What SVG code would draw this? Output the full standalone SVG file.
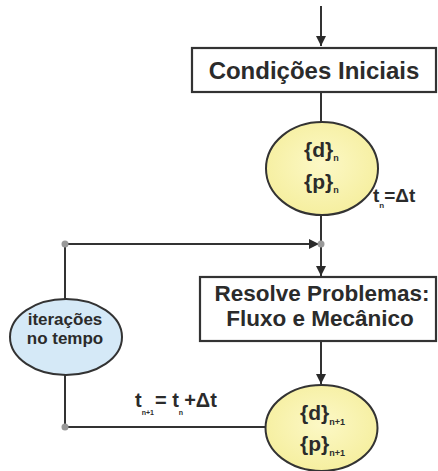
<svg xmlns="http://www.w3.org/2000/svg" width="438" height="471" viewBox="0 0 438 471">
<defs>
<marker id="ah" markerWidth="12" markerHeight="12" refX="10" refY="5" orient="auto" markerUnits="userSpaceOnUse"><path d="M0,0 L10,5 L0,10 z" fill="#2a2a2a"/></marker>
<radialGradient id="yel" cx="50%" cy="45%" r="60%"><stop offset="0" stop-color="#fcf8c6"/><stop offset="1" stop-color="#f5ee9c"/></radialGradient>
</defs>
<style>
.ln{stroke:#333;stroke-width:2;fill:none}
.box{fill:#fff;stroke:#333;stroke-width:2.2}
.yel{fill:url(#yel);stroke:#333;stroke-width:2}
.blu{fill:#d5e9f7;stroke:#333;stroke-width:2}
.t{font-family:"Liberation Sans",Arial,sans-serif;font-weight:bold;fill:#2b2b2b}
.dot{fill:#999}
</style>
<g id="connectors">
<line class="ln" x1="321" y1="6" x2="321" y2="46" marker-end="url(#ah)"/>
<line class="ln" x1="321" y1="92" x2="321" y2="122"/>
<line class="ln" x1="321" y1="215" x2="321" y2="276" marker-end="url(#ah)"/>
<line class="ln" x1="65" y1="244" x2="319" y2="244" marker-end="url(#ah)"/>
<line class="ln" x1="65" y1="244" x2="65" y2="299"/>
<line class="ln" x1="65" y1="375" x2="65" y2="427"/>
<line class="ln" x1="65" y1="427" x2="266" y2="427"/>
<line class="ln" x1="321" y1="341" x2="321" y2="384" marker-end="url(#ah)"/>
<circle class="dot" cx="65" cy="244" r="3.5"/>
<circle class="dot" cx="321" cy="244" r="3.5"/>
<circle class="dot" cx="65" cy="427" r="3.5"/>
<text class="t" x="135" y="407" font-size="20">t<tspan font-size="7" dy="8">n+1</tspan><tspan dx="1" dy="-8">= t</tspan><tspan font-size="7" dy="8">n</tspan><tspan dx="1" dy="-8">+Δt</tspan></text>
</g>
<g id="cond">
<rect class="box" x="192" y="48" width="244" height="44"/>
<text class="t" x="314" y="79" font-size="24" text-anchor="middle">Condições Iniciais</text>
</g>
<g id="state-n">
<ellipse class="yel" cx="322" cy="168.5" rx="56" ry="46.5"/>
<text class="t" x="304" y="157" font-size="21">{d}<tspan font-size="9" dy="4">n</tspan></text>
<text class="t" x="304" y="189" font-size="21">{p}<tspan font-size="9" dy="4">n</tspan></text>
<text class="t" x="373" y="202" font-size="19">t<tspan font-size="8" dy="6">n</tspan><tspan dy="-6">=Δt</tspan></text>
</g>
<g id="resolve">
<rect class="box" x="200" y="277" width="236" height="64"/>
<text class="t" x="322" y="301" font-size="22.5" text-anchor="middle">Resolve Problemas:</text>
<text class="t" x="320" y="326" font-size="22.5" text-anchor="middle">Fluxo e Mecânico</text>
</g>
<g id="iter">
<ellipse class="blu" cx="66" cy="337" rx="56" ry="38"/>
<text class="t" x="65" y="325" font-size="17" text-anchor="middle">iterações</text>
<text class="t" x="65" y="344" font-size="17" text-anchor="middle">no tempo</text>
</g>
<g id="state-n1">
<ellipse class="yel" cx="321.5" cy="428" rx="56" ry="43"/>
<text class="t" x="300" y="420" font-size="21">{d}<tspan font-size="9" dy="5">n+1</tspan></text>
<text class="t" x="300" y="451" font-size="21">{p}<tspan font-size="9" dy="5">n+1</tspan></text>
</g>
</svg>
